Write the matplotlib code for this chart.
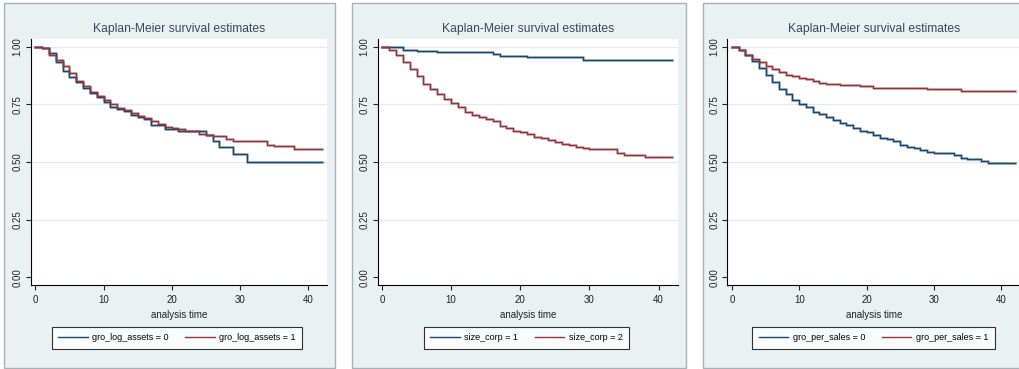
import matplotlib
matplotlib.use("Agg")
import matplotlib.pyplot as plt
from matplotlib.patches import Rectangle

# ---- data (step functions, value holds from t onwards)
p1_t0 = [0, 1, 2, 3, 4, 5, 6, 7, 8, 9, 10, 11, 12, 13, 14, 15, 16, 17, 19, 21, 25, 26, 27, 29, 31, 42]
p1_s0 = [1.0, 0.994, 0.971, 0.935, 0.896, 0.870, 0.846, 0.820, 0.798, 0.781, 0.759, 0.737, 0.730,
         0.720, 0.706, 0.695, 0.687, 0.661, 0.644, 0.633, 0.615, 0.590, 0.567, 0.535, 0.501, 0.501]
p1_t1 = [0, 1, 2, 3, 4, 5, 6, 7, 8, 9, 10, 11, 12, 13, 14, 15, 16, 17, 18, 19, 20, 21, 22, 24, 25,
         26, 28, 29, 31, 34, 35, 38, 42]
p1_s1 = [1.0, 0.995, 0.965, 0.944, 0.918, 0.885, 0.850, 0.828, 0.802, 0.785, 0.769, 0.753, 0.734,
         0.727, 0.713, 0.700, 0.692, 0.677, 0.665, 0.654, 0.646, 0.641, 0.633, 0.622, 0.617,
         0.612, 0.600, 0.593, 0.590, 0.574, 0.569, 0.557, 0.557]

p2_t1 = [0, 3, 5, 8, 16, 17, 21, 29, 42]
p2_s1 = [1.0, 0.987, 0.981, 0.976, 0.967, 0.961, 0.956, 0.943, 0.943]
p2_t2 = [0, 1, 2, 3, 4, 5, 6, 7, 8, 9, 10, 11, 12, 13, 14, 15, 16, 17, 18, 19, 20, 21, 22, 23, 24,
         25, 26, 27, 28, 29, 30, 31, 34, 35, 38, 42]
p2_s2 = [1.0, 0.987, 0.965, 0.936, 0.903, 0.872, 0.840, 0.818, 0.797, 0.773, 0.755, 0.740, 0.718,
         0.706, 0.694, 0.686, 0.676, 0.657, 0.646, 0.636, 0.630, 0.620, 0.609, 0.603, 0.597,
         0.585, 0.578, 0.574, 0.566, 0.561, 0.558, 0.556, 0.541, 0.530, 0.520, 0.520]

p3_t0 = [0, 1, 2, 3, 4, 5, 6, 7, 8, 9, 10, 11, 12, 13, 14, 15, 16, 17, 18, 19, 20, 21, 22, 23, 24,
         25, 26, 27, 28, 29, 30, 31, 33, 34, 35, 37, 38, 42]
p3_s0 = [1.0, 0.988, 0.965, 0.940, 0.910, 0.878, 0.846, 0.817, 0.795, 0.770, 0.752, 0.737, 0.719,
         0.709, 0.697, 0.683, 0.671, 0.661, 0.647, 0.636, 0.628, 0.618, 0.605, 0.599, 0.593,
         0.574, 0.567, 0.562, 0.552, 0.545, 0.541, 0.538, 0.531, 0.516, 0.512, 0.506, 0.494, 0.494]
p3_t1 = [0, 1, 2, 3, 4, 5, 6, 7, 8, 9, 10, 11, 12, 13, 14, 15, 16, 19, 21, 29, 34, 42]
p3_s1 = [1.0, 0.988, 0.965, 0.945, 0.933, 0.918, 0.904, 0.892, 0.879, 0.872, 0.865, 0.860, 0.850,
         0.844, 0.840, 0.838, 0.833, 0.828, 0.821, 0.817, 0.807, 0.807]

labels1 = ["gro_log_assets = 0", "gro_log_assets = 1"]
labels2 = ["size_corp = 1", "size_corp = 2"]
labels3 = ["gro_per_sales = 0", "gro_per_sales = 1"]

title = "Kaplan-Meier survival estimates"
xticks = [0, 10, 20, 30, 40]
yticks = [0.0, 0.25, 0.5, 0.75, 1.0]

NAVY = "#1a476f"
MAROON = "#90353b"
BG = "#eaf1f3"
GRID = "#e3ebee"
FONT = ["Liberation Sans Narrow", "Liberation Sans", "DejaVu Sans"]

W, H = 1020, 369
plt.rcParams["font.family"] = FONT

fig = plt.figure(figsize=(W / 100, H / 100), dpi=100)

# panel frames (pixels: left, right)
frames = [(4, 335), (352.5, 686), (703, 1030)]
# plot regions (pixels: left, right)
regions = [(31, 327), (377.5, 678), (727.5, 1020)]
top_px, bot_px = 38.5, 285
legend_cx = [177, 526.5, 873.5]

panels = [
    ((p1_t0, p1_s0), (p1_t1, p1_s1), labels1),
    ((p2_t1, p2_s1), (p2_t2, p2_s2), labels2),
    ((p3_t0, p3_s0), (p3_t1, p3_s1), labels3),
]

for (fl, fr), (rl, rr), lcx, (a, b, labs) in zip(frames, regions, legend_cx, panels):
    rect = Rectangle((fl / W, 1 / H), (fr - fl) / W, 365 / H, transform=fig.transFigure,
                     facecolor=BG, edgecolor="#aab1b5", lw=1.0, zorder=0)
    fig.add_artist(rect)

    ax = fig.add_axes([rl / W, 1 - bot_px / H, (rr - rl) / W, (bot_px - top_px) / H])
    ax.set_zorder(2)
    ax.set_facecolor("white")

    handles = []
    for (t, s), c in zip([a, b], [NAVY, MAROON]):
        ax.step(t, s, where="post", color=c, lw=2.2, alpha=0.3, zorder=3)
        h, = ax.step(t, s, where="post", color=c, lw=1.0, zorder=4)
        handles.append(h)

    ax.set_xlim(-0.65, 42.8)
    ax.set_ylim(-0.034, 1.036)
    ax.set_xticks(xticks)
    ax.set_yticks(yticks)
    ax.set_yticklabels(["%.2f" % v for v in yticks])
    for v in yticks[1:]:
        ax.axhline(v, color=GRID, lw=1.0, zorder=1)

    for sp in ["top", "right"]:
        ax.spines[sp].set_visible(False)
    for sp in ["left", "bottom"]:
        ax.spines[sp].set_linewidth(0.8)
        ax.spines[sp].set_color("black")
    ax.tick_params(direction="out", length=3.5, width=0.8, labelsize=7, colors="#222222", pad=2.5)
    ax.tick_params(axis="x", pad=4)
    plt.setp(ax.get_yticklabels(), rotation=90, va="center")
    ax.set_xlabel("analysis time", fontsize=7, color="#222222", labelpad=3)

    ax.text(0.5, 1 + (top_px - 29) / (bot_px - top_px), title, transform=ax.transAxes,
            ha="center", va="center", fontsize=8.7, color="#3a4660")

    leg = ax.legend(handles, labs, loc="upper center", bbox_to_anchor=(lcx / W, 1 - 327 / H),
                    bbox_transform=fig.transFigure, ncol=2, fontsize=6.5, frameon=True,
                    fancybox=False, handlelength=3.3, handletextpad=0.5, columnspacing=1.8,
                    borderpad=0.7, borderaxespad=0)
    leg.get_frame().set_edgecolor("black")
    leg.get_frame().set_linewidth(0.8)
    leg.get_frame().set_facecolor("white")

fig.savefig("out.png", dpi=100, facecolor="white")
